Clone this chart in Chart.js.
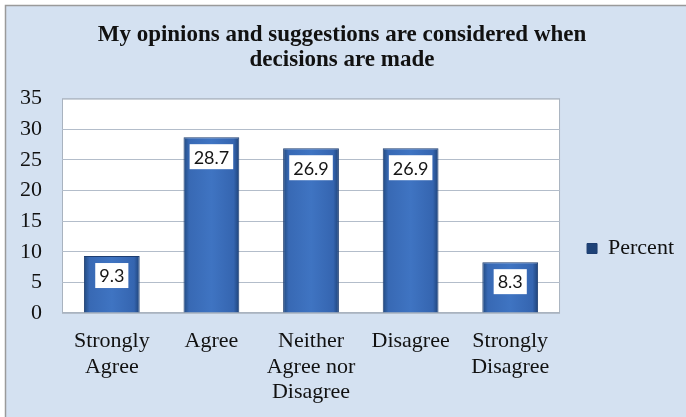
<!DOCTYPE html>
<html>
<head>
<meta charset="utf-8">
<script src="https://cdn.jsdelivr.net/npm/chart.js@4/dist/chart.umd.min.js"></script>
<style>
  html, body { margin: 0; padding: 0; background: #ffffff; }
  #wrap { width: 686px; height: 417px; }
</style>
</head>
<body>
<div id="wrap"><canvas id="c" width="686" height="417"></canvas></div>
<script>
// Survey responses (percent of respondents)
const categories = [
  ['Strongly', 'Agree'],
  'Agree',
  ['Neither', 'Agree nor', 'Disagree'],
  'Disagree',
  ['Strongly', 'Disagree']
];
const percentValues = [9.3, 28.7, 26.9, 26.9, 8.3];
const yTickValues = [0, 5, 10, 15, 20, 25, 30, 35];
const seriesName = 'Percent';
const chartTitle = ['My opinions and suggestions are considered when', 'decisions are made'];

const SERIF = '"Liberation Serif", "Times New Roman", serif';

// Panel background, plot area fill and frame
const framePlugin = {
  id: 'frame',
  beforeDraw(chart) {
    const { ctx, chartArea: a, width, height } = chart;
    ctx.save();
    ctx.fillStyle = '#ffffff';
    ctx.fillRect(0, 0, width, height);
    ctx.fillStyle = '#d4e1f1';
    ctx.fillRect(5, 5, width - 5, height - 5);
    ctx.strokeStyle = '#9a9a9a';
    ctx.lineWidth = 1.5;
    ctx.beginPath();
    ctx.moveTo(5.5, height);
    ctx.lineTo(5.5, 5.5);
    ctx.lineTo(width, 5.5);
    ctx.stroke();
    ctx.fillStyle = '#ffffff';
    ctx.fillRect(a.left, a.top, a.right - a.left, a.bottom - a.top);
    ctx.strokeStyle = '#a9b3bf';
    ctx.lineWidth = 1;
    ctx.strokeRect(a.left + 0.5, a.top + 0.5, a.right - a.left - 1, a.bottom - a.top - 1);
    ctx.restore();
  }
};

// White value boxes near the top of each bar
const valueBoxPlugin = {
  id: 'valueBoxes',
  afterDatasetsDraw(chart) {
    const { ctx } = chart;
    const meta = chart.getDatasetMeta(0);
    ctx.save();
    ctx.font = '18px Lato, "Open Sans", sans-serif';
    ctx.textAlign = 'center';
    ctx.textBaseline = 'middle';
    meta.data.forEach((bar, i) => {
      const txt = percentValues[i].toFixed(1);
      const tw = ctx.measureText(txt).width;
      const bw = tw + 8;
      const bh = 25;
      const top = bar.y + 7;
      ctx.fillStyle = '#ffffff';
      ctx.fillRect(bar.x - bw / 2, top, bw, bh);
      ctx.fillStyle = '#151515';
      ctx.fillText(txt, bar.x, top + bh / 2 + 1);
    });
    ctx.restore();
  }
};

function barFill(c) {
  const chart = c.chart;
  if (c.type !== 'data' || !chart.chartArea || !chart.scales.x) return '#3a6cb8';
  const xs = chart.scales.x;
  const cx = xs.getPixelForValue(c.dataIndex);
  const w = (xs.width / categories.length) * 0.56;
  const g = chart.ctx.createLinearGradient(cx - w / 2, 0, cx + w / 2, 0);
  g.addColorStop(0, '#21497f');
  g.addColorStop(0.1, '#3869b4');
  g.addColorStop(0.5, '#3f74c2');
  g.addColorStop(0.9, '#3565b0');
  g.addColorStop(1, '#1e4277');
  return g;
}

new Chart(document.getElementById('c'), {
  type: 'bar',
  data: {
    labels: categories,
    datasets: [{
      label: seriesName,
      data: percentValues,
      backgroundColor: barFill,
      borderColor: '#1d3d70',
      borderWidth: 1,
      categoryPercentage: 1,
      barPercentage: 0.56
    }]
  },
  options: {
    responsive: false,
    animation: false,
    devicePixelRatio: 1,
    layout: { padding: { top: 0, left: 0, right: 2, bottom: 0 } },
    plugins: {
      title: {
        display: true,
        text: chartTitle,
        color: '#111111',
        font: { family: SERIF, size: 23, weight: 'bold', lineHeight: 1.1 },
        padding: { top: 22, bottom: 26 }
      },
      legend: {
        position: 'right',
        title: {
          display: true,
          text: ' ',
          font: { size: 10, lineHeight: 1 },
          padding: { top: 70, bottom: 0 }
        },
        labels: {
          boxWidth: 10,
          boxHeight: 10,
          padding: 27,
          color: '#111111',
          font: { family: SERIF, size: 22 }
        }
      },
      tooltip: { enabled: false }
    },
    scales: {
      x: {
        grid: { display: false, drawTicks: false },
        border: { display: false },
        ticks: {
          color: '#111111',
          font: { family: SERIF, size: 22, lineHeight: 1.15 },
          padding: 16,
          maxRotation: 0,
          autoSkip: false
        },
        afterFit(scale) { scale.height = 417 - 313; }
      },
      y: {
        min: 0,
        max: 35,
        afterBuildTicks(scale) { scale.ticks = yTickValues.map(v => ({ value: v })); },
        grid: { color: '#b3bdca', drawTicks: false },
        border: { display: false },
        ticks: {
          color: '#111111',
          font: { family: SERIF, size: 22 },
          padding: 20
        },
        afterFit(scale) { scale.width = 62; }
      }
    }
  },
  plugins: [framePlugin, valueBoxPlugin]
});
</script>
</body>
</html>
